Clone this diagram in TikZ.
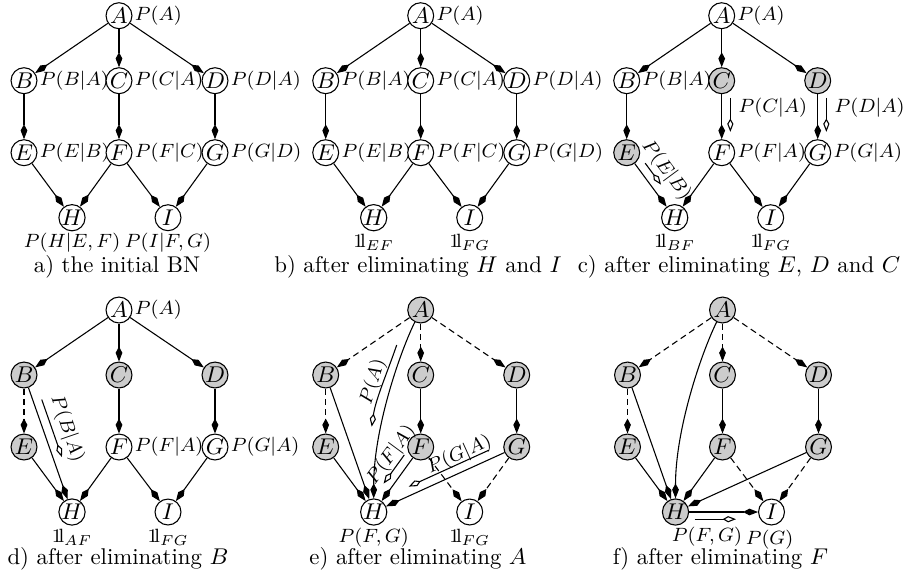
\RequirePackage{fix-cm}
\documentclass[tikz,border=0pt]{standalone}
\usetikzlibrary{arrows.meta,calc}
\IfFileExists{dsfont.sty}{\usepackage{dsfont}\newcommand\one{\mathds{1}}}{\newcommand\one{\mathrm{1\!l}}}
\newcommand\labfont{\fontsize{8}{9.5}\selectfont}
\newcommand\nodefont{\fontsize{9.5}{11}\selectfont}
\newcommand\capfont{\fontsize{9.5}{11.5}\selectfont}
\tikzset{
  bn/.style={circle, draw, line width=0.45pt, minimum size=10.8pt, inner sep=0pt, font=\nodefont, fill=white},
  shd/.style={fill=black!20},
  lab/.style={font=\labfont, inner sep=0.8pt},
  rl/.style={label={[lab]right:#1}},
  ed/.style={-{Kite[length=6.2pt,width=2.8pt,inset=2.6pt]}, line width=0.45pt},
  ded/.style={ed, dash pattern=on 2.6pt off 1.7pt},
  msgar/.style={-{Kite[open,fill=white,length=5.5pt,width=2.6pt,inset=2.2pt]}, line width=0.45pt},
  captxt/.style={anchor=base, font=\capfont, inner sep=0pt},
  bl/.style={anchor=base, font=\labfont, inner sep=0pt},
}
\newcommand\msgarrow[7][3.6pt]{%
  \coordinate (#7p) at ($(#2)!#4!(#3)$);
  \coordinate (#7q) at ($(#2)!#5!(#3)$);
  \coordinate (#7s) at ($(#7p)!#1!#6:(#3)$);
  \coordinate (#7e) at ($(#7q)!#1!#6:(#3)$);
  \draw[msgar] (#7s) -- (#7e);}
\begin{document}
\begin{tikzpicture}[x=0.4167pt,y=-0.4167pt]
\useasboundingbox (0,0) rectangle (910,579);
% ---------------- a ----------------
\begin{scope}[shift={(119,15.7)}]
\node[bn, rl=$P(A)$] (aA) at (0,0) {$A$};
\node[bn, rl=$P(B|A)$] (aB) at (-95,65) {$B$};
\node[bn, rl=$P(C|A)$] (aC) at (0,65) {$C$};
\node[bn, rl=$P(D|A)$] (aD) at (96,65) {$D$};
\node[bn, rl=$P(E|B)$] (aE) at (-95,137) {$E$};
\node[bn, rl=$P(F|C)$] (aF) at (0,137) {$F$};
\node[bn, rl=$P(G|D)$] (aG) at (96,137) {$G$};
\node[bn] (aH) at (-47,202) {$H$};
\node[bn] (aI) at (49,202) {$I$};
\node[bl] (aLH) at (-47,232) {$P(H|E,F)$};
\node[bl] (aLI) at (49,232) {$P(I|F,G)$};
\draw[ed] (aA) -- (aB); \draw[ed] (aA) -- (aC); \draw[ed] (aA) -- (aD);
\draw[ed] (aB) -- (aE); \draw[ed] (aC) -- (aF); \draw[ed] (aD) -- (aG);
\draw[ed] (aE) -- (aH); \draw[ed] (aF) -- (aH); \draw[ed] (aF) -- (aI); \draw[ed] (aG) -- (aI);
\end{scope}
% ---------------- b ----------------
\begin{scope}[shift={(420.7,15.7)}]
\node[bn, rl=$P(A)$] (bA) at (0,0) {$A$};
\node[bn, rl=$P(B|A)$] (bB) at (-95,65) {$B$};
\node[bn, rl=$P(C|A)$] (bC) at (0,65) {$C$};
\node[bn, rl=$P(D|A)$] (bD) at (96,65) {$D$};
\node[bn, rl=$P(E|B)$] (bE) at (-95,137) {$E$};
\node[bn, rl=$P(F|C)$] (bF) at (0,137) {$F$};
\node[bn, rl=$P(G|D)$] (bG) at (96,137) {$G$};
\node[bn] (bH) at (-47,202) {$H$};
\node[bn] (bI) at (49,202) {$I$};
\node[bl] (bLH) at (-47,232) {$\one_{EF}$};
\node[bl] (bLI) at (49,232) {$\one_{FG}$};
\draw[ed] (bA) -- (bB); \draw[ed] (bA) -- (bC); \draw[ed] (bA) -- (bD);
\draw[ed] (bB) -- (bE); \draw[ed] (bC) -- (bF); \draw[ed] (bD) -- (bG);
\draw[ed] (bE) -- (bH); \draw[ed] (bF) -- (bH); \draw[ed] (bF) -- (bI); \draw[ed] (bG) -- (bI);
\end{scope}
% ---------------- c ----------------
\begin{scope}[shift={(721.7,15.7)}]
\node[bn, rl=$P(A)$] (cA) at (0,0) {$A$};
\node[bn, rl=$P(B|A)$] (cB) at (-95,65) {$B$};
\node[bn, shd] (cC) at (0,65) {$C$};
\node[bn, shd] (cD) at (96,65) {$D$};
\node[bn, shd] (cE) at (-95,137) {$E$};
\node[bn, rl=$P(F|A)$] (cF) at (0,137) {$F$};
\node[bn, rl=$P(G|A)$] (cG) at (96,137) {$G$};
\node[bn] (cH) at (-47,202) {$H$};
\node[bn] (cI) at (49,202) {$I$};
\node[bl] (cLH) at (-47,232) {$\one_{BF}$};
\node[bl] (cLI) at (49,232) {$\one_{FG}$};
\draw[ed] (cA) -- (cB); \draw[ed] (cA) -- (cC); \draw[ed] (cA) -- (cD);
\draw[ed] (cB) -- (cE); \draw[ed] (cC) -- (cF); \draw[ed] (cD) -- (cG);
\draw[ed] (cE) -- (cH); \draw[ed] (cF) -- (cH); \draw[ed] (cF) -- (cI); \draw[ed] (cG) -- (cI);
\msgarrow{cC}{cF}{0.24}{0.71}{90}{cm1}
\msgarrow{cD}{cG}{0.24}{0.71}{90}{cm2}
\msgarrow{cE}{cH}{0.24}{0.57}{90}{cm3}
\node[lab, anchor=west] (cL1) at (14.5,92) {$P(C|A)$};
\node[lab, anchor=west] (cL2) at (110.5,92) {$P(D|A)$};
\node[lab, rotate=-53.6] (cL3) at (-55.5,154.5) {$P(E|B)$};
\end{scope}
% ---------------- d ----------------
\begin{scope}[shift={(119,310)}]
\node[bn, rl=$P(A)$] (dA) at (0,0) {$A$};
\node[bn, shd] (dB) at (-95,65) {$B$};
\node[bn, shd] (dC) at (0,65) {$C$};
\node[bn, shd] (dD) at (96,65) {$D$};
\node[bn, shd] (dE) at (-95,137) {$E$};
\node[bn, rl=$P(F|A)$] (dF) at (0,137) {$F$};
\node[bn, rl=$P(G|A)$] (dG) at (96,137) {$G$};
\node[bn] (dH) at (-47,202) {$H$};
\node[bn] (dI) at (49,202) {$I$};
\node[bl] (dLH) at (-47,232) {$\one_{AF}$};
\node[bl] (dLI) at (49,232) {$\one_{FG}$};
\draw[ed] (dA) -- (dB); \draw[ed] (dA) -- (dC); \draw[ed] (dA) -- (dD);
\draw[ded] (dB) -- (dE); \draw[ed] (dC) -- (dF); \draw[ed] (dD) -- (dG);
\draw[ed] (dE) -- (dH); \draw[ed] (dB) -- (dH); \draw[ed] (dF) -- (dH); \draw[ed] (dF) -- (dI); \draw[ed] (dG) -- (dI);
\msgarrow{dB}{dH}{0.2}{0.62}{90}{dm1}
\node[lab, rotate=-71] (dL1) at (-52,119) {$P(B|A)$};
\end{scope}
% ---------------- e ----------------
\begin{scope}[shift={(420.7,310)}]
\node[bn, shd] (eA) at (0,0) {$A$};
\node[bn, shd] (eB) at (-95,65) {$B$};
\node[bn, shd] (eC) at (0,65) {$C$};
\node[bn, shd] (eD) at (96,65) {$D$};
\node[bn, shd] (eE) at (-95,137) {$E$};
\node[bn, shd] (eF) at (0,137) {$F$};
\node[bn, shd] (eG) at (96,137) {$G$};
\node[bn] (eH) at (-47,202) {$H$};
\node[bn] (eI) at (49,202) {$I$};
\node[bl] (eLH) at (-47,232) {$P(F,G)$};
\node[bl] (eLI) at (49,232) {$\one_{FG}$};
\draw[ded] (eA) -- (eB); \draw[ded] (eA) -- (eC); \draw[ded] (eA) -- (eD);
\draw[ded] (eB) -- (eE); \draw[ed] (eC) -- (eF); \draw[ed] (eD) -- (eG);
\draw[ed] (eE) -- (eH); \draw[ed] (eB) -- (eH); \draw[ed] (eF) -- (eH); \draw[ed] (eG) -- (eH);
\draw[ded] (eF) -- (eI); \draw[ded] (eG) -- (eI);
\draw[ed] (eA) .. controls (-22,45) and (-47,120) .. (eH);
\coordinate (ePAs) at (-24,35);
\coordinate (ePAe) at (-49,116.7);
\draw[msgar] (ePAs) .. controls (-33,61.5) and (-45,89) .. (ePAe);
\msgarrow{eF}{eH}{0.2}{0.64}{-90}{em1}
\msgarrow{eG}{eH}{0.17}{0.73}{-90}{em2}
\node[lab, rotate=73] (eL1) at (-47.5,72) {$P(A)$};
\node[lab, rotate=53.6] (eL2) at (-29.5,145) {$P(F|A)$};
\node[lab, rotate=24.3] (eL3) at (38.7,145) {$P(G|A)$};
\end{scope}
% ---------------- f ----------------
\begin{scope}[shift={(722.5,310)}]
\node[bn, shd] (fA) at (0,0) {$A$};
\node[bn, shd] (fB) at (-95,65) {$B$};
\node[bn, shd] (fC) at (0,65) {$C$};
\node[bn, shd] (fD) at (96,65) {$D$};
\node[bn, shd] (fE) at (-95,137) {$E$};
\node[bn, shd] (fF) at (0,137) {$F$};
\node[bn, shd] (fG) at (96,137) {$G$};
\node[bn, shd] (fH) at (-47,202) {$H$};
\node[bn] (fI) at (49,202) {$I$};
\node[bl] (fLI) at (47,234) {$P(G)$};
\node[bl] (fLM) at (-15.5,231) {$P(F,G)$};
\draw[ded] (fA) -- (fB); \draw[ded] (fA) -- (fC); \draw[ded] (fA) -- (fD);
\draw[ded] (fB) -- (fE); \draw[ed] (fC) -- (fF); \draw[ed] (fD) -- (fG);
\draw[ed] (fE) -- (fH); \draw[ed] (fB) -- (fH); \draw[ed] (fF) -- (fH); \draw[ed] (fG) -- (fH);
\draw[ded] (fF) -- (fI); \draw[ded] (fG) -- (fI);
\draw[ed] (fA) .. controls (-22,45) and (-47,120) .. (fH);
\draw[ed] (fH) -- (fI);
\msgarrow[3pt]{fH}{fI}{0.2}{0.63}{-90}{fm1}
\end{scope}
% ---------------- captions ----------------
\node[captxt] (capa) at (117,272) {a) the initial BN};
\node[captxt] (capb) at (418,272) {b) after eliminating $H$ and $I$};
\node[captxt] (capc) at (739,272) {c) after eliminating $E$, $D$ and $C$};
\node[captxt] (capd) at (118,564) {d) after eliminating $B$};
\node[captxt] (cape) at (418,564) {e) after eliminating $A$};
\node[captxt] (capf) at (720.5,564) {f) after eliminating $F$};
\end{tikzpicture}
\end{document}
